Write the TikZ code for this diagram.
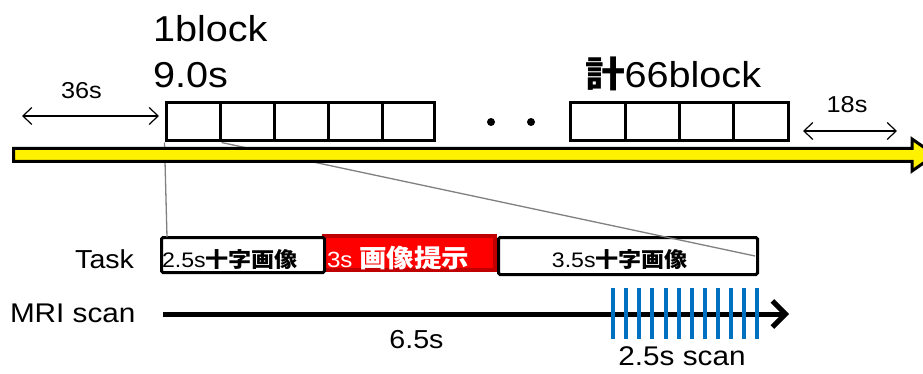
\documentclass[tikz,border=0pt]{standalone}
\usepackage{fontspec}
\setmainfont{Liberation Sans}[FakeStretch=1.1]
\newfontfamily\cjk{Noto Sans CJK JP}[FakeStretch=1.1]
\usetikzlibrary{arrows.meta}
\definecolor{scanblue}{RGB}{0,112,192}
\definecolor{darkred}{RGB}{192,0,0}
\newcommand{\fs}[1]{\fontsize{#1}{#1}\selectfont}
\tikzset{
  blk/.style={draw=black, line width=3pt, fill=white, inner sep=0pt, minimum height=38pt},
  taskbox/.style={draw=black, line width=3pt, fill=white, inner sep=0pt, rounded corners=1.5pt},
  redbox/.style={draw=darkred, line width=4pt, fill=red, inner sep=0pt},
  lbl/.style={inner sep=0pt, outer sep=0pt},
  zoomline/.style={draw=gray, line width=1.3pt},
  dimarrow/.style={line width=1.2pt, {Straight Barb[length=9pt,width=17pt]}-{Straight Barb[length=9pt,width=17pt]}},
  scanline/.style={line width=5pt, -{Straight Barb[length=13pt,width=26pt]}},
  scantick/.style={draw=scanblue, line width=4pt}
}
\begin{document}
\begin{tikzpicture}[x=1pt,y=-1pt]
\useasboundingbox (0,0) rectangle (923,374);
\fill[white] (0,0) rectangle (923,374);

% task row boxes
\node[redbox, minimum width=171pt, minimum height=34pt] (t2) at (409.5,253) {};
\node[taskbox, minimum width=163pt, minimum height=35pt] (t1) at (243,255) {};
\node[taskbox, minimum width=259pt, minimum height=37pt] (t3) at (628,256) {};

% top blocks
\node[blk, minimum width=54pt] (b1) at (193,122) {};
\node[blk, minimum width=54pt] (b2) at (247,122) {};
\node[blk, minimum width=54pt] (b3) at (301,122) {};
\node[blk, minimum width=54pt] (b4) at (355,122) {};
\node[blk, minimum width=52pt] (b5) at (408,122) {};
\node[blk, minimum width=55pt] (c1) at (597.5,122) {};
\node[blk, minimum width=54pt] (c2) at (652,122) {};
\node[blk, minimum width=54pt] (c3) at (706,122) {};
\node[blk, minimum width=55pt] (c4) at (760.5,122) {};

% zoom lines
\coordinate (z1) at (167,237);
\coordinate (z2) at (755,256);
\draw[zoomline] (b1.south west) -- (z1);
\draw[zoomline] (b1.south east) -- (z2);

% yellow time bar
\draw[line width=3pt, fill=yellow, line join=miter]
  (13.5,148.5) -- (912,148.5) -- (912,139) -- (935,155) -- (912,171)
  -- (912,161.5) -- (13.5,161.5) -- cycle;

% dots
\fill (491,122) circle (4pt);
\fill (531,122) circle (4pt);

% dimension arrows
\coordinate (d1) at (22,116);
\coordinate (d2) at (159,116);
\coordinate (e1) at (803,131);
\coordinate (e2) at (897,131);
\draw[dimarrow] (d1) -- (d2);
\draw[dimarrow] (e1) -- (e2);

% labels
\node[lbl, anchor=base west] (l1) at (153,42) {\fs{36}1block};
\node[lbl, anchor=base west] (l2) at (153,88) {\fs{36}9.0s};
\node[lbl, anchor=base west] (l3) at (585,88) {\fs{36}{\cjk\bfseries 計}66block};
\node[lbl, anchor=base] (l36) at (81.5,99) {\fs{23}36s};
\node[lbl, anchor=base] (l18) at (847,113) {\fs{23}18s};
\node[lbl, anchor=base east] (ltask) at (134,268) {\fs{26}Task};
\node[lbl, anchor=base west] (lmri) at (10,322) {\fs{27}MRI scan};
\node[lbl, anchor=base] (l65) at (416.5,348) {\fs{26}6.5s};
\node[lbl, anchor=base] (lscan) at (682,365) {\fs{27}2.5s scan};

\node[lbl, anchor=base west] (tx1) at (162,267) {\fs{21}2.5s{\cjk\bfseries 十字画像}};
\node[lbl, anchor=base west, text=white] (tx2) at (327,267) {\fs{22}3s {\cjk\bfseries\fs{25}画像提示}};
\node[lbl, anchor=base] (tx3) at (620,267) {\fs{21}3.5s{\cjk\bfseries 十字画像}};

% MRI scan line
\coordinate (m0) at (163,314);
\coordinate (m1) at (789,314);
\draw[scanline] (m0) -- (m1);
\foreach \i in {0,...,11}
  \draw[scantick] (613.3+13.06*\i,288) -- ++(0,51);
\end{tikzpicture}
\end{document}
